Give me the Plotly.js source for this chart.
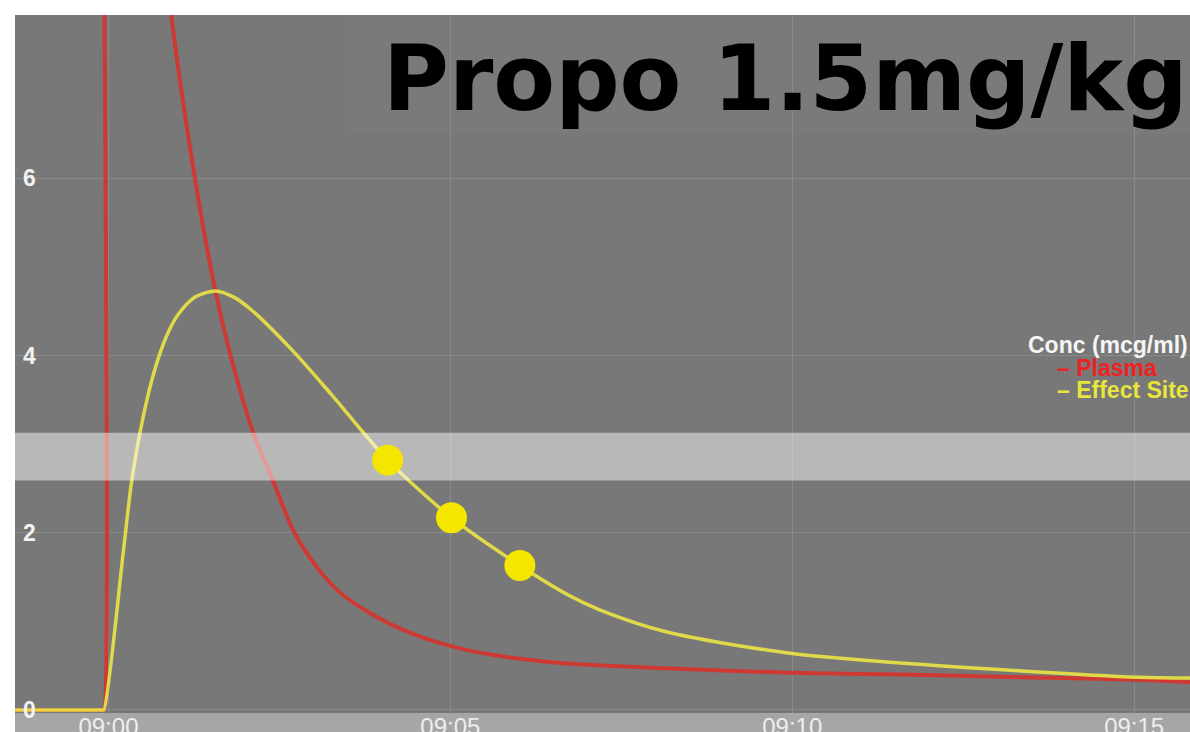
<!DOCTYPE html>
<html><head><meta charset="utf-8">
<script src="https://cdn.plot.ly/plotly-3.0.1.min.js"></script>
<style>html,body{margin:0;padding:0;background:#fff;overflow:hidden}#chart{width:1190px;height:732px}</style>
</head><body><div id="chart"></div>
<script>
const DAY = '2024-01-01 ';
const chartTitle = 'Propo 1.5mg/kg';
const legendTitle = 'Conc (mcg/ml)';
const seriesNames = ['Plasma', 'Effect Site'];

const plasmaTimes = ['08:58:00','08:59:55','08:59:56','08:59:58','09:00:20','09:00:40','09:00:55','09:01:16','09:01:34','09:01:47','09:02:07','09:02:24','09:02:42','09:03:00','09:03:21','09:03:50','09:04:25','09:04:58','09:05:38','09:06:37','09:08:10','09:09:58','09:11:35','09:13:20','09:15:02','09:15:55'];
const plasmaValues = [0, 0, 0, 15.0, 12.2, 9.7, 7.85, 5.99, 4.72, 4.01, 3.13, 2.60, 2.03, 1.66, 1.35, 1.09, 0.87, 0.73, 0.62, 0.53, 0.47, 0.42, 0.40, 0.37, 0.34, 0.31];

const effectTimes = ['08:58:00','08:59:55','08:59:56','09:00:13','09:00:20','09:00:28','09:00:36','09:00:44','09:00:52','09:01:01','09:01:16','09:01:34','09:01:50','09:02:05','09:02:42','09:03:15','09:04:05','09:05:01','09:06:01','09:06:43','09:07:11','09:08:10','09:09:58','09:11:35','09:15:02','09:15:55'];
const effectValues = [0, 0, 0, 1.78, 2.55, 3.15, 3.62, 3.98, 4.25, 4.46, 4.66, 4.73, 4.66, 4.52, 4.05, 3.57, 2.82, 2.17, 1.63, 1.30, 1.13, 0.88, 0.64, 0.53, 0.37, 0.36];

const markerTimes = ['09:04:05','09:05:01','09:06:01'];
const markerValues = [2.82, 2.17, 1.63];

const bandLimits = [2.59, 3.13];

const xRange = ['08:58:38', '09:15:49'];
const yRange = [-0.034, 7.844];

const ts = a => a.map(t => DAY + t);

const traces = [
  {x: ts(plasmaTimes), y: plasmaValues, mode: 'lines', name: seriesNames[0],
   line: {color: '#d3372f', width: 4, shape: 'spline', smoothing: 0.8}, opacity: 0.95, showlegend: false, hoverinfo: 'skip'},
  {x: ts(effectTimes), y: effectValues, mode: 'lines', name: seriesNames[1],
   line: {color: '#e6df48', width: 3.5, shape: 'spline', smoothing: 0.8}, opacity: 0.95, showlegend: false, hoverinfo: 'skip'},
  {x: ts([xRange[0], xRange[1], xRange[1], xRange[0], xRange[0]]),
   y: [bandLimits[0], bandLimits[0], bandLimits[1], bandLimits[1], bandLimits[0]],
   mode: 'lines', fill: 'toself', fillcolor: 'rgba(255,255,255,0.48)', line: {width: 0},
   showlegend: false, hoverinfo: 'skip'},
  {x: ts(markerTimes), y: markerValues, mode: 'markers',
   marker: {color: '#f5e600', size: 31, line: {width: 0}}, showlegend: false, hoverinfo: 'skip'}
];

const pxX = p => (p - 15) / 1175;
const pxY = p => (713 - p) / 698;

const layout = {
  width: 1190, height: 732,
  margin: {l: 15, r: 0, t: 15, b: 19, autoexpand: false},
  paper_bgcolor: '#ffffff',
  plot_bgcolor: '#787878',
  showlegend: false,
  xaxis: {
    type: 'date', range: ts(xRange), tick0: DAY + '09:00:00', dtick: 300000,
    tickformat: '%H:%M', showgrid: true, gridcolor: '#8a8a8a', gridwidth: 1,
    zeroline: false, showline: false, ticks: '', fixedrange: true, ticklabelstandoff: -3,
    tickfont: {family: 'Liberation Sans, Arial, sans-serif', size: 24, color: '#eeeeee'}
  },
  yaxis: {
    range: yRange, tick0: 0, dtick: 2, showgrid: true, gridcolor: '#8a8a8a', gridwidth: 1,
    zeroline: false, showline: false, ticks: '', ticklabelposition: 'inside', fixedrange: true,
    ticklabeloverflow: 'allow', ticklabelstandoff: 5,
    tickfont: {family: 'Liberation Sans, Arial, sans-serif', size: 23, color: '#f2f2f2', weight: 'bold'}
  },
  shapes: [
    {type: 'rect', xref: 'paper', yref: 'paper', x0: 0, x1: 1, y0: -19/698, y1: 0,
     fillcolor: '#a6a6a6', line: {width: 0}, layer: 'below'},
    {type: 'rect', xref: 'paper', yref: 'paper', x0: pxX(350), x1: 1, y0: pxY(133), y1: 1,
     fillcolor: '#7a7a7a', line: {width: 0}, layer: 'between'}
  ],
  annotations: [
    {text: chartTitle, xref: 'paper', yref: 'paper', x: pxX(382), y: pxY(78),
     xanchor: 'left', yanchor: 'middle', showarrow: false, borderpad: 0,
     font: {family: 'DejaVu Sans, sans-serif', size: 90, color: '#000000', weight: 'bold'}},
    {text: legendTitle, xref: 'paper', yref: 'paper', x: pxX(1027), y: pxY(345),
     xanchor: 'left', yanchor: 'middle', showarrow: false, borderpad: 0,
     font: {family: 'Liberation Sans, Arial, sans-serif', size: 23, color: '#f5f5f5', weight: 'bold'}},
    {text: '– ' + seriesNames[0], xref: 'paper', yref: 'paper', x: pxX(1056), y: pxY(368),
     xanchor: 'left', yanchor: 'middle', showarrow: false, borderpad: 0,
     font: {family: 'Liberation Sans, Arial, sans-serif', size: 23, color: '#ee2222', weight: 'bold'}},
    {text: '– ' + seriesNames[1], xref: 'paper', yref: 'paper', x: pxX(1056), y: pxY(390),
     xanchor: 'left', yanchor: 'middle', showarrow: false, borderpad: 0,
     font: {family: 'Liberation Sans, Arial, sans-serif', size: 23, color: '#e8e63a', weight: 'bold'}}
  ]
};

Plotly.newPlot('chart', traces, layout, {displayModeBar: false, staticPlot: true});
</script>
</body></html>
